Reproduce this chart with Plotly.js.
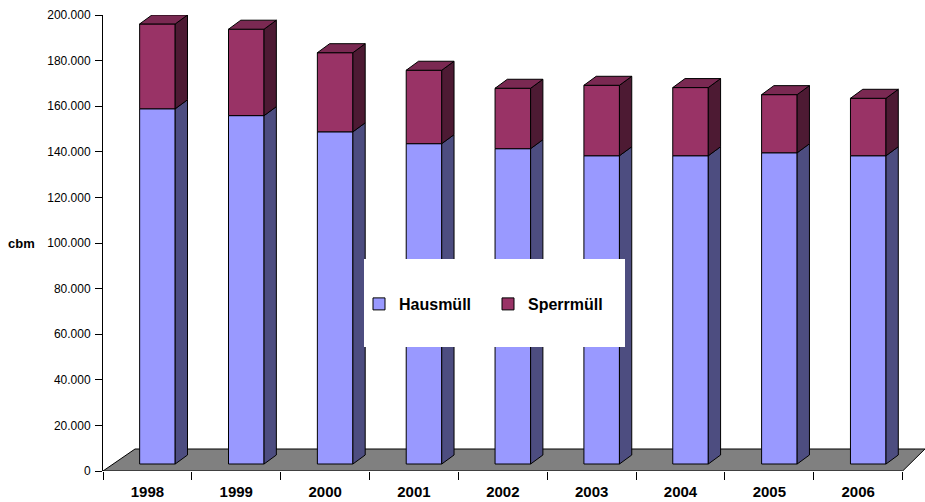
<!DOCTYPE html>
<html><head><meta charset="utf-8">
<script src="https://cdn.plot.ly/plotly-3.0.1.min.js"></script>
<style>html,body{margin:0;padding:0;background:#fff}#chart{width:925px;height:502px}</style>
</head><body><div id="chart"></div>
<script>
// ---- data ----
const years = ['1998','1999','2000','2001','2002','2003','2004','2005','2006'];
const hausmuell = [155800, 152800, 145700, 140500, 138300, 135200, 135200, 136500, 135200];
const sperrmuell = [37200, 37900, 34700, 32200, 26500, 30900, 29900, 25500, 25200];
const yTickVals = [0, 20000, 40000, 60000, 80000, 100000, 120000, 140000, 160000, 180000, 200000];
const seriesNames = ['Hausmüll', 'Sperrmüll'];
const yTitle = 'cbm';

// ---- geometry / style ----
const W = 925, H = 502, M = {l: 103, r: 0, t: 15, b: 31};
const plotW = W - M.l - M.r, plotH = H - M.t - M.b;
const yMax = 200000;
const catPx = 88.85;
const ux = 1 / catPx, uy = yMax / plotH;
const xRange = [-0.5, -0.5 + plotW * ux];
const barW = 0.4;
const planeDx = 10 * ux, planeDy = 7 * uy;      // bars stand inside the floor
const sideDx = 12.3 * ux, sideDy = 9 * uy;      // bar depth
const floorBackL = 32 * ux, floorBackR = 22.3 * ux, floorDy = 22 * uy;
const FONT = '"Liberation Sans", Arial, sans-serif';
const C = {haus: '#9999FF', hausSide: '#4D4D80', sperr: '#993366', sperrSide: '#4D1A33', sperrTop: '#7A2952'};

const xs = years.map((_, i) => i);
const nCat = years.length;
const lefts = xs.map(i => i - barW / 2 + planeDx);
const rights = lefts.map(v => v + barW);
const hausTop = hausmuell.map(v => planeDy + v);
const totTop = hausmuell.map((v, i) => planeDy + v + sperrmuell[i]);

function sidePolys(bottoms, tops) {
  const px = [], py = [];
  xs.forEach(i => {
    const r = rights[i];
    px.push(r, r + sideDx, r + sideDx, r, r, null);
    py.push(bottoms[i], bottoms[i] + sideDy, tops[i] + sideDy, tops[i], bottoms[i], null);
  });
  return {px, py};
}
function topPolys(tops) {
  const px = [], py = [];
  xs.forEach(i => {
    const l = lefts[i], r = rights[i], t = tops[i];
    px.push(l, l + sideDx, r + sideDx, r, l, null);
    py.push(t, t + sideDy, t + sideDy, t, t, null);
  });
  return {px, py};
}
const hs = sidePolys(xs.map(() => planeDy), hausTop);
const ss = sidePolys(hausTop, totTop);
const st = topPolys(totTop);

const poly = (p, color) => ({
  type: 'scatter', mode: 'lines', x: p.px, y: p.py, fill: 'toself', fillcolor: color,
  line: {color: '#000', width: 1}, showlegend: false, hoverinfo: 'skip'
});

const data = [
  {type: 'bar', name: seriesNames[0], x: xs, y: hausmuell, base: xs.map(() => planeDy),
   width: barW, offset: -barW / 2 + planeDx,
   marker: {color: C.haus, line: {color: '#000', width: 1}}},
  {type: 'bar', name: seriesNames[1], x: xs, y: sperrmuell, base: hausTop,
   width: barW, offset: -barW / 2 + planeDx,
   marker: {color: C.sperr, line: {color: '#000', width: 1}}},
  poly(hs, C.hausSide),
  poly(ss, C.sperrSide),
  poly(st, C.sperrTop)
];

const bx = xs.map(i => i - 0.5).concat([nCat - 0.5]);
const layout = {
  width: W, height: H, margin: M,
  paper_bgcolor: '#fff', plot_bgcolor: 'rgba(0,0,0,0)',
  separators: ',.',
  barmode: 'overlay', showlegend: true,
  font: {family: FONT, color: '#000'},
  xaxis: {
    range: xRange, showgrid: false, zeroline: false, showline: false,
    tickmode: 'array', tickvals: xs, ticktext: years, ticks: '',
    ticklabelstandoff: 10,
    minor: {tickmode: 'array', tickvals: bx, ticks: 'outside', ticklen: 8, tickcolor: '#000', tickwidth: 1, showgrid: false},
    tickfont: {family: FONT, size: 15, weight: 'bold', color: '#000'}, fixedrange: true
  },
  yaxis: {
    range: [0, yMax], showgrid: false, zeroline: false, showline: true, linecolor: '#000', linewidth: 1,
    tickmode: 'array', tickvals: yTickVals, tickformat: ',.0f',
    ticks: 'outside', ticklen: 7, tickcolor: '#000', tickwidth: 1, ticklabelstandoff: 2,
    tickfont: {family: FONT, size: 12, color: '#000'}, fixedrange: true
  },
  shapes: [
    {type: 'path', xref: 'x', yref: 'y', layer: 'below', fillcolor: '#808080', line: {color: '#000', width: 1},
     path: `M ${-0.5},0 L ${nCat - 0.5},0 L ${nCat - 0.5 + floorBackR},${floorDy} L ${-0.5 + floorBackL},${floorDy} Z`},
    {type: 'rect', xref: 'paper', yref: 'paper', layer: 'above', fillcolor: '#fff', line: {width: 0},
     x0: (364 - M.l) / plotW, x1: (625 - M.l) / plotW, y0: (H - M.b - 347) / plotH, y1: (H - M.b - 259) / plotH}
  ],
  legend: {
    orientation: 'h', xanchor: 'left', yanchor: 'middle',
    x: (359 - M.l) / plotW, y: (H - M.b - 304) / plotH,
    bgcolor: 'rgba(0,0,0,0)', borderwidth: 0, traceorder: 'normal',
    font: {family: FONT, size: 16, weight: 'bold', color: '#000'},
    entrywidth: 84
  },
  annotations: [
    {text: yTitle, xref: 'paper', yref: 'paper', x: (21.5 - M.l) / plotW, y: 0.5, xanchor: 'center', yanchor: 'middle',
     showarrow: false, font: {family: FONT, size: 13, weight: 'bold', color: '#000'}}
  ]
};

Plotly.newPlot('chart', data, layout, {displayModeBar: false, staticPlot: true});
</script>
</body></html>
